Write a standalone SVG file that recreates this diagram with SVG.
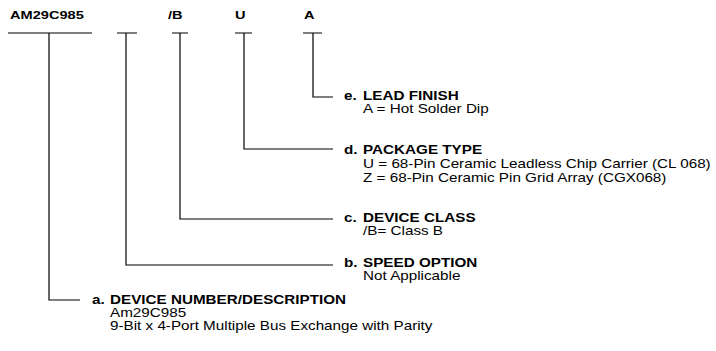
<svg xmlns="http://www.w3.org/2000/svg" width="716" height="351" viewBox="0 0 716 351">
<style>
text{font-family:"Liberation Sans",Arial,sans-serif;font-size:12px;fill:#000}
.b{font-weight:bold}
.h{font-weight:bold;font-size:11.5px}
.ln{stroke:#000;stroke-width:1.2;fill:none}
</style>
<rect width="716" height="351" fill="#fff"/>
<g id="header" transform="scale(1.27 1)">
<text class="h" x="7.9" y="19">AM29C985</text>
<text class="h" x="132.3" y="19">/B</text>
<text class="h" x="185" y="19">U</text>
<text class="h" x="239.4" y="19">A</text>
</g>
<g id="connectors">
<path class="ln" d="M8 33H92M49 33V300H80"/>
<path class="ln" d="M117 33H137M126 33V265H333"/>
<path class="ln" d="M172 33H188M180 33V219H333"/>
<path class="ln" d="M235 33H252M244 33V149H333"/>
<path class="ln" d="M303 33H322M313 33V97H333"/>
</g>
<g id="node-e" transform="translate(344 0) scale(1.27 1)">
<text class="b" x="0" y="100">e.</text>
<text class="b" x="15" y="100">LEAD FINISH</text>
<text x="15" y="113">A = Hot Solder Dip</text>
</g>
<g id="node-d" transform="translate(344 0) scale(1.27 1)">
<text class="b" x="0" y="154">d.</text>
<text class="b" x="15" y="154">PACKAGE TYPE</text>
<text x="15" y="168">U = 68-Pin Ceramic Leadless Chip Carrier (CL 068)</text>
<text x="15" y="182">Z = 68-Pin Ceramic Pin Grid Array (CGX068)</text>
</g>
<g id="node-c" transform="translate(344 0) scale(1.27 1)">
<text class="b" x="0" y="222">c.</text>
<text class="b" x="15" y="222">DEVICE CLASS</text>
<text x="15" y="235">/B= Class B</text>
</g>
<g id="node-b" transform="translate(344 0) scale(1.27 1)">
<text class="b" x="0" y="267">b.</text>
<text class="b" x="15" y="267">SPEED OPTION</text>
<text x="15" y="280">Not Applicable</text>
</g>
<g id="node-a" transform="translate(92 0) scale(1.27 1)">
<text class="b" x="0" y="304">a.</text>
<text class="b" x="14.2" y="304">DEVICE NUMBER/DESCRIPTION</text>
<text x="14.2" y="317">Am29C985</text>
<text x="14.2" y="330">9-Bit x 4-Port Multiple Bus Exchange with Parity</text>
</g>
</svg>
